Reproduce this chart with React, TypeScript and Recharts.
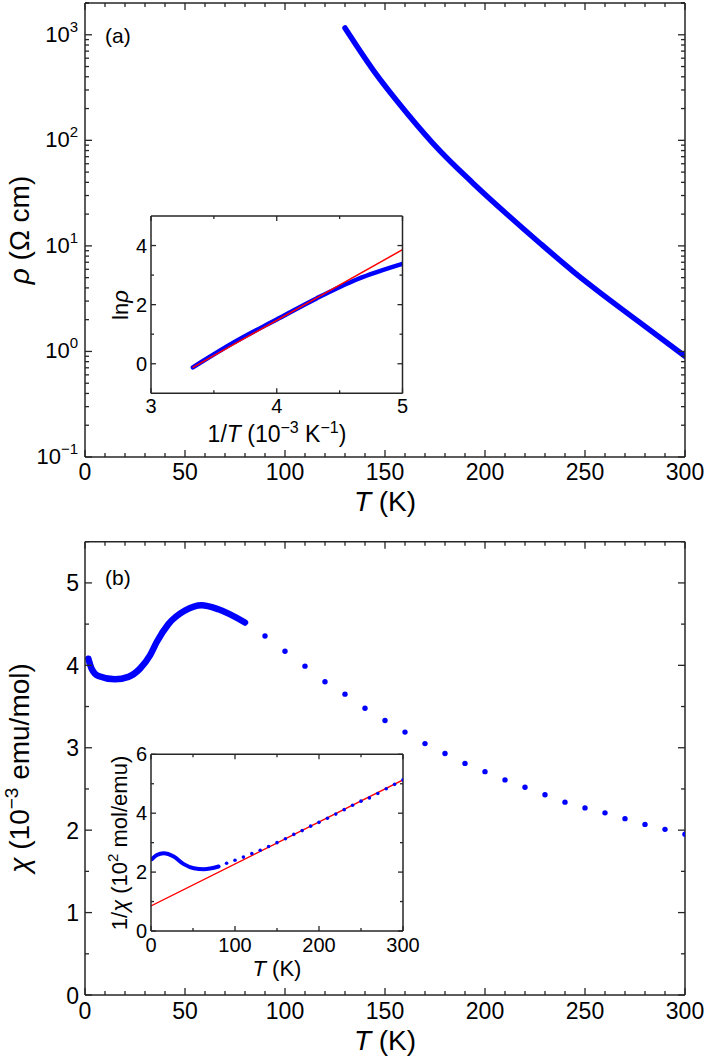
import React from 'react';
import { ComposedChart, Line, Scatter, XAxis, YAxis } from 'recharts';

const FONT = '"Liberation Sans", Arial, Helvetica, sans-serif';
const BLUE = '#0000ff';
const RED = '#ff0000';
const AX = '#262626';

// (a) resistivity vs T
const rhoT = [130, 144, 161, 177.5, 194, 211, 227.5, 244, 252.5, 275.5, 300];
const rhoVal = [1159, 466, 181, 79.4, 39.3, 19.95, 10.6, 5.75, 4.27, 2.0, 0.9];

// (a) inset: ln(rho) vs 1/T
const invT = [3.333, 3.658, 4.0, 4.32, 4.64, 5.0];
const lnRho = [-0.12, 0.72, 1.5, 2.22, 2.86, 3.38];
const arrFitX = [3.33, 5.0];
const arrFitY = [-0.13, 3.86];

// (b) susceptibility, dense low-T part
const chiLowT = [1.7, 3.3, 6.7, 15, 21.7, 27.5, 32.5, 35.8, 41.7, 50, 58.3, 66.7, 80];
const chiLow = [4.08, 3.96, 3.87, 3.83, 3.86, 3.96, 4.12, 4.28, 4.5, 4.665, 4.73, 4.68, 4.52];
// (b) sparse points
const chiT = [90, 100, 110, 120, 130, 140, 150, 160, 170, 180, 190, 200, 210, 220, 230, 240, 250, 260, 270, 280, 290, 300];
const chiVal = [4.355, 4.17, 3.99, 3.8, 3.65, 3.48, 3.33, 3.19, 3.05, 2.93, 2.81, 2.71, 2.61, 2.52, 2.43, 2.34, 2.27, 2.21, 2.14, 2.07, 2.01, 1.95];

// (b) inset: 1/chi
const invLowT = [1.2, 7, 15, 27, 39, 51, 63, 80.5];
const invLow = [2.44, 2.58, 2.64, 2.53, 2.27, 2.13, 2.1, 2.19];
const invChi = [2.3, 2.4, 2.51, 2.63, 2.74, 2.87, 3.0, 3.13, 3.28, 3.41, 3.56, 3.69, 3.83, 3.97, 4.12, 4.27, 4.41, 4.52, 4.67, 4.83, 4.98, 5.13];
const cwX = [0, 300];
const cwY = [0.85, 5.13];

// ticks
const tTicks = [0, 10, 20, 30, 40, 50, 60, 70, 80, 90, 100, 110, 120, 130, 140, 150, 160, 170, 180, 190, 200, 210, 220, 230, 240, 250, 260, 270, 280, 290, 300];
const rhoDecades = [0.1, 1, 10, 100, 1000];
const rhoTicks = rhoDecades.flatMap((d) => [1, 2, 3, 4, 5, 6, 7, 8, 9].map((k) => +(k * d).toPrecision(3))).concat([2000]);
const chiTicks = [0, 0.5, 1, 1.5, 2, 2.5, 3, 3.5, 4, 4.5, 5, 5.5];
const insAX = [3, 3.5, 4, 4.5, 5];
const insAY = [0, 1, 2, 3, 4];
const insBX = [0, 50, 100, 150, 200, 250, 300];
const insBY = [0, 1, 2, 3, 4, 5, 6];

const pts = (xs: number[], ys: number[]) => xs.map((x, i) => ({ x, y: ys[i] }));

const every = (step: number) => (v: number) => Math.abs(v / step - Math.round(v / step)) < 1e-6;
const decade = (v: number) => {
  const l = Math.log10(v);
  return Math.abs(l - Math.round(l)) < 1e-6;
};

type Side = 'left' | 'right' | 'top' | 'bottom';
interface TickOpts {
  side: Side;
  isMajor: (v: number) => boolean;
  major: number;
  minor: number;
  font?: number;
  gap?: number;
  base?: number;
  label?: (v: number) => React.ReactNode;
}

const makeTick = (o: TickOpts) => (props: any) => {
  const { x, y, payload } = props;
  const v = payload.value;
  const big = o.isMajor(v);
  const len = big ? o.major : o.minor;
  let x2 = x;
  let y2 = y;
  if (o.side === 'left') x2 = x + len;
  else if (o.side === 'right') x2 = x - len;
  else if (o.side === 'top') y2 = y + len;
  else y2 = y - len;
  let txt = null;
  if (big && o.label) {
    if (o.side === 'left') {
      txt = (
        <text x={x - (o.gap || 0)} y={y + (o.base || 0)} textAnchor="end" fontSize={o.font} fontFamily={FONT} fill="#000">
          {o.label(v)}
        </text>
      );
    } else if (o.side === 'bottom') {
      txt = (
        <text x={x} y={y + (o.base || 0)} textAnchor="middle" fontSize={o.font} fontFamily={FONT} fill="#000">
          {o.label(v)}
        </text>
      );
    }
  }
  return (
    <g>
      <line x1={x} y1={y} x2={x2} y2={y2} stroke={AX} strokeWidth={1.3} />
      {txt}
    </g>
  );
};

const logLabel = (v: number) => {
  const e = Math.round(Math.log10(v));
  return (
    <>
      10
      <tspan dy={-10} fontSize={15}>
        {e < 0 ? '\u2212' + Math.abs(e) : String(e)}
      </tspan>
    </>
  );
};
const plain = (v: number) => String(v);

const axisCommon = {
  type: 'number' as const,
  allowDataOverflow: true,
  tickSize: 0,
  tickMargin: 0,
  tickLine: false,
  interval: 0 as const,
  axisLine: { stroke: AX, strokeWidth: 1.5 },
};

// invisible series so the top / right frame axes get drawn
const ghost = (data: { x: number; y: number }[]) => (
  <Line xAxisId="t" yAxisId="r" data={data} dataKey="y" stroke="none" dot={false} activeDot={false} isAnimationActive={false} />
);

function PanelA() {
  const data = pts(rhoT, rhoVal);
  return (
    <ComposedChart width={706} height={520} margin={{ top: 2, right: 20, bottom: 0, left: 0 }}>
      <XAxis {...axisCommon} xAxisId="b" dataKey="x" domain={[0, 300]} ticks={tTicks} height={63}
        tick={makeTick({ side: 'bottom', isMajor: every(50), major: 7, minor: 4, font: 23, base: 23, label: plain })} />
      <XAxis {...axisCommon} xAxisId="t" orientation="top" dataKey="x" domain={[0, 300]} ticks={tTicks} height={1}
        tick={makeTick({ side: 'top', isMajor: every(50), major: 7, minor: 4 })} />
      <YAxis {...axisCommon} yAxisId="l" dataKey="y" scale="log" domain={[0.1, 2000]} ticks={rhoTicks} width={85}
        tick={makeTick({ side: 'left', isMajor: decade, major: 7, minor: 4, font: 22, gap: 7, base: 7, label: logLabel })} />
      <YAxis {...axisCommon} yAxisId="r" orientation="right" dataKey="y" scale="log" domain={[0.1, 2000]} ticks={rhoTicks} width={1}
        tick={makeTick({ side: 'right', isMajor: decade, major: 7, minor: 4 })} />
      {ghost(data)}
      <Line xAxisId="b" yAxisId="l" data={data} dataKey="y" type="monotone" stroke={BLUE} strokeWidth={5.5}
        strokeLinecap="round" dot={false} activeDot={false} isAnimationActive={false} />
    </ComposedChart>
  );
}

function InsetA() {
  const data = pts(invT, lnRho);
  return (
    <ComposedChart width={340} height={250} margin={{ top: 9, right: 27.5, bottom: 0, left: 0 }}>
      <XAxis {...axisCommon} xAxisId="b" dataKey="x" domain={[3, 5]} ticks={insAX} height={62.7}
        tick={makeTick({ side: 'bottom', isMajor: every(1), major: 5, minor: 3, font: 20, base: 20, label: plain })} />
      <XAxis {...axisCommon} xAxisId="t" orientation="top" dataKey="x" domain={[3, 5]} ticks={insAX} height={1}
        tick={makeTick({ side: 'top', isMajor: every(1), major: 5, minor: 3 })} />
      <YAxis {...axisCommon} yAxisId="l" dataKey="y" domain={[-1, 5]} ticks={insAY} width={60}
        tick={makeTick({ side: 'left', isMajor: every(2), major: 5, minor: 3, font: 20, gap: 4, base: 7, label: plain })} />
      <YAxis {...axisCommon} yAxisId="r" orientation="right" dataKey="y" domain={[-1, 5]} ticks={insAY} width={1}
        tick={makeTick({ side: 'right', isMajor: every(2), major: 5, minor: 3 })} />
      {ghost(data)}
      <Line xAxisId="b" yAxisId="l" data={data} dataKey="y" type="monotone" stroke={BLUE} strokeWidth={4.5}
        strokeLinecap="round" dot={false} activeDot={false} isAnimationActive={false} />
      <Line xAxisId="b" yAxisId="l" data={pts(arrFitX, arrFitY)} dataKey="y" type="linear" stroke={RED} strokeWidth={1.5}
        dot={false} activeDot={false} isAnimationActive={false} />
    </ComposedChart>
  );
}

const dotShape = (r: number) => (p: any) => <circle cx={p.cx} cy={p.cy} r={r} fill={BLUE} />;

function PanelB() {
  const data = pts(chiT, chiVal);
  return (
    <ComposedChart width={706} height={539} margin={{ top: 20.7, right: 20, bottom: 0, left: 0 }}>
      <XAxis {...axisCommon} xAxisId="b" dataKey="x" domain={[0, 300]} ticks={tTicks} height={64}
        tick={makeTick({ side: 'bottom', isMajor: every(50), major: 7, minor: 4, font: 23, base: 24, label: plain })} />
      <XAxis {...axisCommon} xAxisId="t" orientation="top" dataKey="x" domain={[0, 300]} ticks={tTicks} height={1}
        tick={makeTick({ side: 'top', isMajor: every(50), major: 7, minor: 4 })} />
      <YAxis {...axisCommon} yAxisId="l" dataKey="y" domain={[0, 5.5]} ticks={chiTicks} width={85}
        tick={makeTick({ side: 'left', isMajor: every(1), major: 7, minor: 4, font: 23, gap: 6, base: 8.5, label: plain })} />
      <YAxis {...axisCommon} yAxisId="r" orientation="right" dataKey="y" domain={[0, 5.5]} ticks={chiTicks} width={1}
        tick={makeTick({ side: 'right', isMajor: every(1), major: 7, minor: 4 })} />
      {ghost(data)}
      <Line xAxisId="b" yAxisId="l" data={pts(chiLowT, chiLow)} dataKey="y" type="monotone" stroke={BLUE} strokeWidth={6.5}
        strokeLinecap="round" dot={false} activeDot={false} isAnimationActive={false} />
      <Scatter xAxisId="b" yAxisId="l" data={data} dataKey="y" fill={BLUE} shape={dotShape(2.7)} isAnimationActive={false} />
    </ComposedChart>
  );
}

function InsetB() {
  const data = pts(chiT, invChi);
  return (
    <ComposedChart width={340} height={250} margin={{ top: 9.3, right: 27, bottom: 0, left: 0 }}>
      <XAxis {...axisCommon} xAxisId="b" dataKey="x" domain={[0, 300]} ticks={insBX} height={63}
        tick={makeTick({ side: 'bottom', isMajor: every(100), major: 5, minor: 3, font: 20, base: 20.5, label: plain })} />
      <XAxis {...axisCommon} xAxisId="t" orientation="top" dataKey="x" domain={[0, 300]} ticks={insBX} height={1}
        tick={makeTick({ side: 'top', isMajor: every(100), major: 5, minor: 3 })} />
      <YAxis {...axisCommon} yAxisId="l" dataKey="y" domain={[0, 6]} ticks={insBY} width={60}
        tick={makeTick({ side: 'left', isMajor: every(2), major: 5, minor: 3, font: 20, gap: 4, base: 7, label: plain })} />
      <YAxis {...axisCommon} yAxisId="r" orientation="right" dataKey="y" domain={[0, 6]} ticks={insBY} width={1}
        tick={makeTick({ side: 'right', isMajor: every(2), major: 5, minor: 3 })} />
      {ghost(data)}
      <Line xAxisId="b" yAxisId="l" data={pts(cwX, cwY)} dataKey="y" type="linear" stroke={RED} strokeWidth={1.4}
        dot={false} activeDot={false} isAnimationActive={false} />
      <Line xAxisId="b" yAxisId="l" data={pts(invLowT, invLow)} dataKey="y" type="monotone" stroke={BLUE} strokeWidth={4}
        strokeLinecap="round" dot={false} activeDot={false} isAnimationActive={false} />
      <Scatter xAxisId="b" yAxisId="l" data={data} dataKey="y" fill={BLUE} shape={dotShape(1.8)} isAnimationActive={false} />
    </ComposedChart>
  );
}

function Titles() {
  const t = { fontFamily: FONT, fill: '#000' };
  return (
    <svg width={706} height={1059} style={{ position: 'absolute', left: 0, top: 0, pointerEvents: 'none' }}>
      <text x={105} y={43} fontSize={21} {...t}>(a)</text>
      <text x={105} y={585} fontSize={21} {...t}>(b)</text>
      <text x={385} y={511} fontSize={28} textAnchor="middle" {...t}>
        <tspan fontStyle="italic">T</tspan> (K)
      </text>
      <text x={385} y={1050} fontSize={28} textAnchor="middle" {...t}>
        <tspan fontStyle="italic">T</tspan> (K)
      </text>
      <text x={29} y={230} fontSize={28} textAnchor="middle" transform="rotate(-90 29 230)" {...t}>
        <tspan fontStyle="italic">ρ</tspan> (Ω cm)
      </text>
      <text x={29} y={768} fontSize={28} textAnchor="middle" transform="rotate(-90 29 768)" {...t}>
        <tspan fontStyle="italic">χ</tspan> (10<tspan dy={-11} fontSize={19}>−3</tspan><tspan dy={11}> emu/mol)</tspan>
      </text>
      <text x={277} y={442} fontSize={23} textAnchor="middle" {...t}>
        1/<tspan fontStyle="italic">T</tspan> (10<tspan dy={-9} fontSize={16}>−3</tspan><tspan dy={9}> K</tspan>
        <tspan dy={-9} fontSize={16}>−1</tspan><tspan dy={9}>)</tspan>
      </text>
      <text x={128} y={305} fontSize={22} textAnchor="middle" transform="rotate(-90 128 305)" {...t}>
        ln<tspan fontStyle="italic">ρ</tspan>
      </text>
      <text x={277} y={976} fontSize={22} textAnchor="middle" {...t}>
        <tspan fontStyle="italic">T</tspan> (K)
      </text>
      <text x={127} y={843} fontSize={22} textAnchor="middle" transform="rotate(-90 127 843)" {...t}>
        1/<tspan fontStyle="italic">χ</tspan> (10<tspan dy={-9} fontSize={15}>2</tspan><tspan dy={9}> mol/emu)</tspan>
      </text>
    </svg>
  );
}

export default function App() {
  return (
    <div style={{ position: 'absolute', left: 0, top: 0, width: 706, height: 1059, background: '#fff', fontFamily: FONT }}>
      <div style={{ position: 'absolute', left: 0, top: 0 }}>
        <PanelA />
      </div>
      <div style={{ position: 'absolute', left: 91, top: 206 }}>
        <InsetA />
      </div>
      <div style={{ position: 'absolute', left: 0, top: 520 }}>
        <PanelB />
      </div>
      <div style={{ position: 'absolute', left: 91, top: 744 }}>
        <InsetB />
      </div>
      <Titles />
    </div>
  );
}
